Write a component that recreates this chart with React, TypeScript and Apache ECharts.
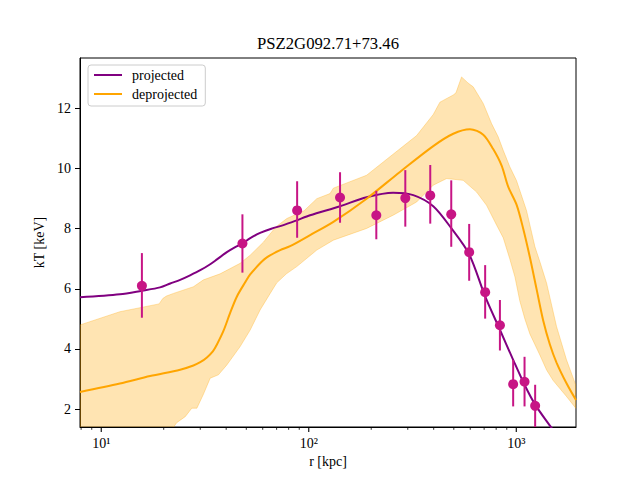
import React, { useEffect, useRef } from "react";
import * as echarts from "echarts";

// Labels
const TITLE = "PSZ2G092.71+73.46";
const X_LABEL = "r [kpc]";
const Y_LABEL = "kT [keV]";
const SERIES_NAMES = ["projected", "deprojected"];

// Axis settings
const X_MIN = 7.9;
const X_MAX = 1940;
const Y_MIN = 1.405;
const Y_MAX = 13.68;
const X_MAJOR_TICKS = [10, 100, 1000];
const X_TICK_LABELS = ["10¹", "10²", "10³"];
const X_MINOR_TICKS = [8, 9, 20, 30, 40, 50, 60, 70, 80, 90, 200, 300, 400, 500, 600, 700, 800, 900];
const Y_TICKS = [2, 4, 6, 8, 10, 12];

// Measured temperatures with 1-sigma bounds
const rObs = [15.7, 47.9, 87.9, 141.5, 211.6, 291.9, 385, 486, 593, 708, 834, 966, 1096, 1233];
const tObs = [6.1, 7.51, 8.61, 9.04, 8.45, 9.02, 9.11, 8.48, 7.22, 5.89, 4.79, 2.83, 2.91, 2.11];
const tObsLo = [5.04, 6.54, 7.7, 8.2, 7.65, 8.07, 8.17, 7.4, 6.27, 5.01, 3.95, 2.09, 2.09, 1.3];
const tObsHi = [7.19, 8.48, 9.58, 9.88, 9.26, 9.95, 10.12, 9.61, 8.16, 6.79, 5.63, 3.64, 3.74, 2.81];

// Projected model profile
const rProj = [7.9, 12.3, 15.7, 19.2, 21.5, 24.0, 26.8, 30.0, 33.5, 36.1, 40.3, 44.0, 47.9, 52.0, 58.3, 66.0, 75.5, 87.5, 101.5, 141.5, 190, 255, 319, 398, 486, 593, 708, 834, 966, 1096, 1233, 1452, 1700, 1940];
const tProj = [5.72, 5.82, 5.94, 6.05, 6.18, 6.3, 6.45, 6.62, 6.82, 6.98, 7.22, 7.38, 7.51, 7.68, 7.86, 8.0, 8.12, 8.28, 8.45, 8.75, 9.05, 9.2, 9.12, 8.75, 8.02, 7.15, 5.75, 4.64, 3.64, 2.81, 2.15, 1.45, 0.8, 0.2];

// Deprojected model profile
const rDeproj = [7.9, 12.3, 17.2, 24.0, 27.8, 30.0, 32.3, 34.5, 36.1, 38.8, 41.8, 45.0, 49.4, 52.2, 58.3, 62.8, 72.8, 81.3, 101.5, 131.4, 190, 275, 398, 497, 598, 693, 774, 850, 914, 1003, 1080, 1163, 1252, 1348, 1452, 1563, 1746, 1940];
const tDeproj = [2.57, 2.85, 3.1, 3.31, 3.45, 3.56, 3.72, 3.92, 4.15, 4.6, 5.2, 5.74, 6.22, 6.48, 6.85, 7.05, 7.29, 7.42, 7.79, 8.23, 9.0, 9.89, 10.75, 11.16, 11.31, 11.13, 10.65, 10.1, 9.4, 8.8, 8.0, 7.05, 6.0, 4.95, 4.15, 3.55, 2.86, 2.3];

// Deprojected uncertainty band: upper edge
const rBandHi = [7.9, 12.3, 19.0, 19.8, 20.6, 22.3, 27.8, 31.1, 37.4, 46.7, 52.2, 60.4, 69.4, 78.4, 95, 105.2, 109.3, 126.6, 131.4, 190, 228.6, 331, 398, 428.6, 497, 512, 545, 585, 620, 693, 760, 818, 865, 931, 1003, 1121, 1230, 1300, 1400, 1563, 1746, 1940];
const tBandHi = [4.8, 5.24, 5.5, 5.68, 5.76, 5.85, 6.07, 6.3, 6.5, 6.85, 7.12, 7.55, 8.06, 8.34, 8.6, 8.89, 9.0, 9.17, 9.35, 9.78, 10.22, 11.1, 11.8, 12.21, 12.45, 12.52, 13.05, 12.85, 12.72, 12.17, 11.5, 11.06, 10.61, 10.06, 9.6, 8.6, 7.4, 6.9, 6.19, 4.75, 3.64, 2.78];

// Deprojected uncertainty band: lower edge
const rBandLo = [7.9, 22.3, 23.1, 25.4, 27.3, 28.9, 31.1, 33.5, 36.7, 40.3, 46.7, 52.2, 58.3, 65.2, 70.1, 78, 87.5, 109.3, 131.4, 190, 255, 331, 398, 462, 555, 644, 719, 804, 865, 930, 985, 1040, 1100, 1163, 1299, 1400, 1506, 1746, 1940];
const tBandLo = [0.6, 1.4, 1.55, 1.75, 2.03, 2.03, 2.5, 3.03, 3.14, 3.47, 4.08, 4.63, 5.3, 5.85, 6.2, 6.5, 6.74, 7.29, 7.62, 8.01, 8.45, 8.89, 9.45, 9.67, 9.61, 9.22, 8.78, 8.12, 7.7, 7.0, 6.4, 5.6, 5.0, 4.5, 3.8, 3.3, 2.95, 2.42, 2.02];

const FONT = "Liberation Serif";
const PURPLE = "#800080";
const ORANGE = "#ffa500";
const POINT = "#c71585";

export default function App() {
  const ref = useRef<HTMLDivElement>(null);

  useEffect(() => {
    if (!ref.current) return;
    const chart = echarts.init(ref.current, undefined, { renderer: "svg" });

    const zip = (xs: number[], ys: number[]) => xs.map((x, i) => [x, ys[i]]);

    const option: any = {
      animation: false,
      backgroundColor: "#ffffff",
      textStyle: { fontFamily: FONT },
      graphic: [
        {
          type: "text",
          x: 328,
          y: 43,
          style: {
            text: TITLE,
            fill: "#000",
            fontFamily: FONT,
            fontSize: 16.7,
            textAlign: "center",
            textVerticalAlign: "middle",
          },
        },
      ],
      grid: {
        left: 80,
        right: 64,
        top: 58,
        bottom: 53,
        show: true,
        borderColor: "#000",
        borderWidth: 1,
        backgroundColor: "#fff",
        containLabel: false,
      },
      legend: {
        data: SERIES_NAMES,
        orient: "vertical",
        left: 88,
        top: 65,
        padding: [3, 8, 5, 5],
        itemWidth: 28,
        itemHeight: 14,
        itemGap: 5,
        backgroundColor: "rgba(255,255,255,0.8)",
        borderColor: "#cccccc",
        borderWidth: 1,
        borderRadius: 3,
        itemStyle: { opacity: 0 },
        textStyle: { fontFamily: FONT, fontSize: 14, color: "#000", padding: [0, 0, 0, 5] },
      },
      xAxis: {
        type: "log",
        logBase: 10,
        min: X_MIN,
        max: X_MAX,
        name: X_LABEL,
        nameLocation: "middle",
        nameGap: 27,
        nameTextStyle: { fontFamily: FONT, fontSize: 14, color: "#000" },
        axisLine: { show: true, lineStyle: { color: "#000", width: 1 } },
        axisTick: { show: false },
        splitLine: { show: false },
        axisLabel: {
          showMinLabel: false,
          showMaxLabel: false,
          margin: 9,
          fontFamily: FONT,
          fontSize: 14,
          color: "#000",
          formatter: (v: number) => {
            const e = Math.round(Math.log10(v));
            const idx = X_MAJOR_TICKS.findIndex((t) => Math.round(Math.log10(t)) === e);
            return idx >= 0 ? X_TICK_LABELS[idx] : "";
          },
        },
      },
      yAxis: {
        type: "value",
        min: Y_MIN,
        max: Y_MAX,
        name: Y_LABEL,
        nameLocation: "middle",
        nameGap: 26,
        nameTextStyle: { fontFamily: FONT, fontSize: 14, color: "#000" },
        axisLine: { show: true, lineStyle: { color: "#000", width: 1 } },
        axisTick: { show: true, length: 5, lineStyle: { color: "#000", width: 1 }, customValues: Y_TICKS },
        axisLabel: {
          customValues: Y_TICKS,
          margin: 9,
          fontFamily: FONT,
          fontSize: 14,
          color: "#000",
        },
        splitLine: { show: false },
      },
      series: [
        {
          // uncertainty band of the deprojected profile
          type: "custom",
          name: "band",
          clip: true,
          silent: true,
          z: 1,
          data: [[rBandHi[0], tBandHi[0]]],
          renderItem: (_params: any, api: any) => {
            const pts: number[][] = [];
            rBandHi.forEach((r, i) => pts.push(api.coord([r, tBandHi[i]])));
            for (let i = rBandLo.length - 1; i >= 0; i--) pts.push(api.coord([rBandLo[i], tBandLo[i]]));
            return {
              type: "polygon",
              shape: { points: pts },
              style: { fill: "rgba(255,165,0,0.3)", stroke: "rgba(255,165,0,0.3)", lineWidth: 1 },
            };
          },
        },
        {
          type: "line",
          name: SERIES_NAMES[0],
          data: zip(rProj, tProj),
          symbol: "none",
          smooth: 0.3,
          clip: true,
          z: 3,
          lineStyle: { color: PURPLE, width: 2 },
          itemStyle: { color: PURPLE },
        },
        {
          type: "line",
          name: SERIES_NAMES[1],
          data: zip(rDeproj, tDeproj),
          symbol: "none",
          smooth: 0.3,
          clip: true,
          z: 3,
          lineStyle: { color: ORANGE, width: 2 },
          itemStyle: { color: ORANGE },
        },
        {
          // measured points with error bars
          type: "custom",
          name: "data",
          clip: true,
          z: 5,
          data: rObs.map((r, i) => [r, tObs[i], tObsLo[i], tObsHi[i]]),
          encode: { x: 0, y: 1 },
          renderItem: (_params: any, api: any) => {
            const r = api.value(0);
            const p = api.coord([r, api.value(1)]);
            const lo = api.coord([r, api.value(2)]);
            const hi = api.coord([r, api.value(3)]);
            return {
              type: "group",
              children: [
                {
                  type: "line",
                  shape: { x1: lo[0], y1: lo[1], x2: hi[0], y2: hi[1] },
                  style: { stroke: POINT, lineWidth: 2 },
                },
                { type: "circle", shape: { cx: p[0], cy: p[1], r: 5 }, style: { fill: POINT } },
              ],
            };
          },
        },
        {
          // major and minor ticks of the logarithmic radius axis
          type: "custom",
          name: "xticks",
          clip: false,
          silent: true,
          z: 6,
          data: [
            ...X_MAJOR_TICKS.map((v) => [v, Y_MIN, 1]),
            ...X_MINOR_TICKS.map((v) => [v, Y_MIN, 0]),
          ],
          encode: { x: 0, y: 1 },
          renderItem: (_params: any, api: any) => {
            const p = api.coord([api.value(0), Y_MIN]);
            const major = api.value(2) === 1;
            return {
              type: "line",
              shape: { x1: p[0], y1: p[1], x2: p[0], y2: p[1] + (major ? 5 : 2.8) },
              style: { stroke: "#000", lineWidth: major ? 1.1 : 0.8 },
            };
          },
        },
      ],
    };

    chart.setOption(option);
    return () => chart.dispose();
  }, []);

  return (
    <div
      ref={ref}
      style={{ position: "absolute", left: 0, top: 0, width: 640, height: 480 }}
    />
  );
}
